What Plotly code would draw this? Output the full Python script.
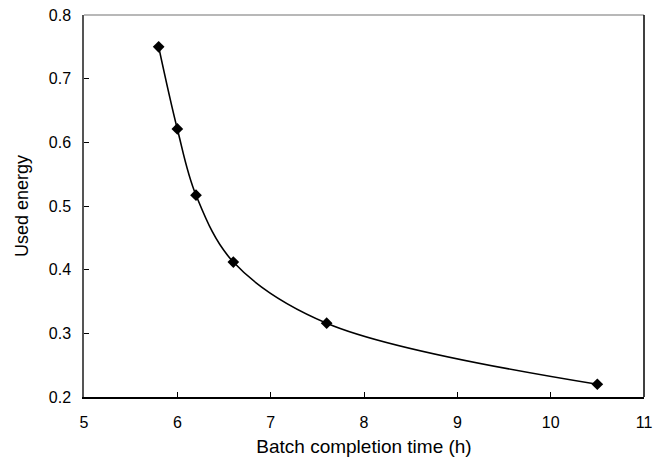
import plotly.graph_objects as go

batch_time = [5.8, 6.0, 6.2, 6.6, 7.6, 10.5]
used_energy = [0.75, 0.621, 0.517, 0.412, 0.316, 0.22]

x_ticks = [5, 6, 7, 8, 9, 10, 11]
y_ticks = [0.2, 0.3, 0.4, 0.5, 0.6, 0.7, 0.8]

fig = go.Figure()
fig.add_trace(go.Scatter(
    x=batch_time, y=used_energy,
    mode="lines+markers",
    line=dict(color="black", width=1.6, shape="spline", smoothing=1.0),
    marker=dict(symbol="diamond", size=9, color="black"),
    showlegend=False,
))

font = "Liberation Sans, Arial, Helvetica, sans-serif"
fig.update_layout(
    width=658, height=451,
    margin=dict(l=76, r=22, t=7, b=62),
    paper_bgcolor="white", plot_bgcolor="white",
    font=dict(family=font, color="black", size=16),
    shapes=[
        dict(type="line", xref="paper", yref="paper", x0=0, x1=1, y0=1, y1=1,
             line=dict(color="#a0a0a0", width=1.5)),
        dict(type="line", xref="paper", yref="paper", x0=1, x1=1, y0=0, y1=1,
             line=dict(color="black", width=1.5)),
    ],
)
fig.update_xaxes(
    range=[5, 11], tickvals=x_ticks, ticktext=[str(v) for v in x_ticks],
    ticks="inside", ticklen=5, tickcolor="black", tickwidth=1,
    showline=True, linecolor="black", linewidth=1.5, mirror=False,
    showgrid=False, zeroline=False, automargin=False,
    title=dict(text="Batch completion time (h)", font=dict(size=19), standoff=10),
    ticklabelstandoff=10, ticklabeloverflow="allow",
)
fig.update_yaxes(
    range=[0.2, 0.8], tickvals=y_ticks, ticktext=[f"{v:.1f}" for v in y_ticks],
    ticks="inside", ticklen=5, tickcolor="black", tickwidth=1,
    showline=True, linecolor="#555555", linewidth=1.5, mirror=False,
    showgrid=False, zeroline=False, automargin=False,
    title=dict(text="Used energy", font=dict(size=18), standoff=15),
    ticklabelstandoff=8, ticklabeloverflow="allow",
)

fig.write_html("out.html")
